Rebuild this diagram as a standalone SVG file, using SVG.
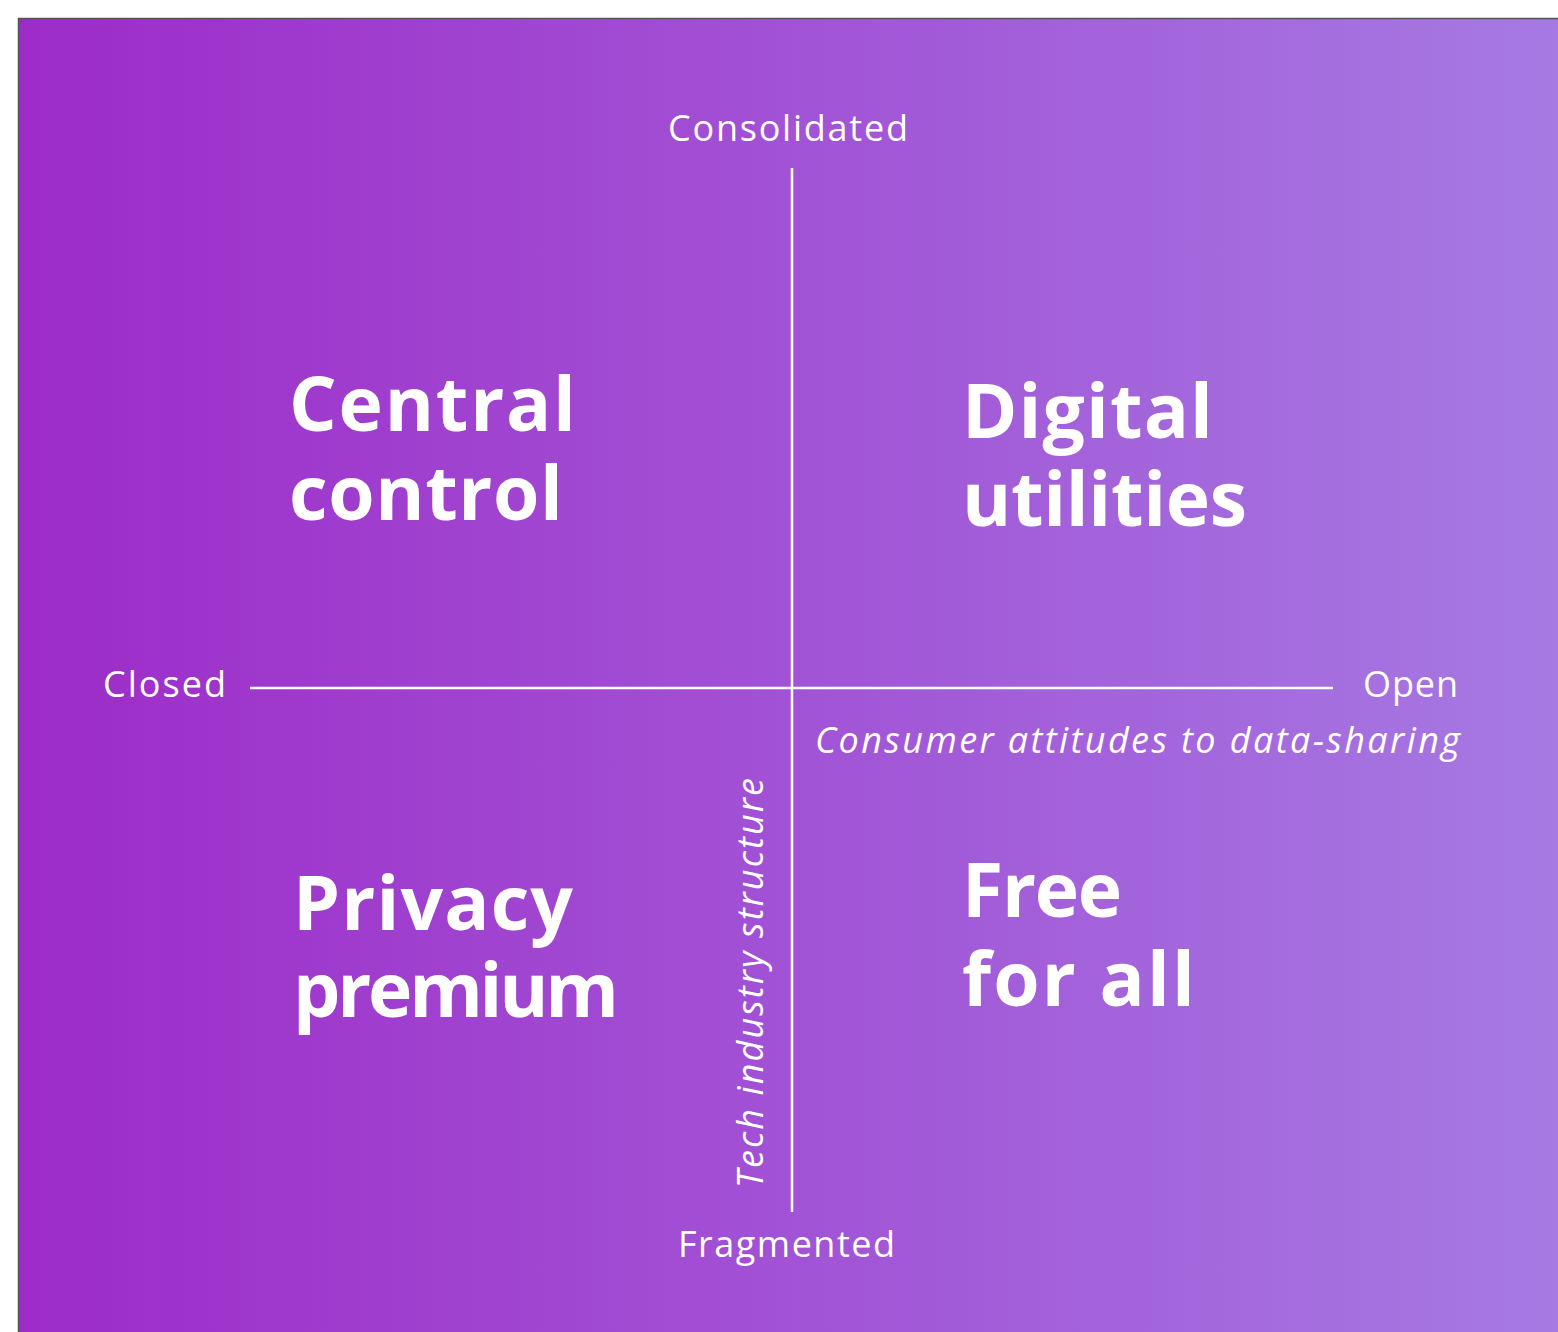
<svg xmlns="http://www.w3.org/2000/svg" width="1558" height="1332" viewBox="0 0 1558 1332">
<defs>
<linearGradient id="bg" x1="0" y1="0" x2="1" y2="0">
<stop offset="0" stop-color="#9D2BC8"/>
<stop offset="1" stop-color="#A67AE3"/>
</linearGradient>
<style>
.ax{fill:#fff;font-family:"Open Sans",Lato,sans-serif;font-size:36px}
.it{font-style:italic}
.big{fill:#fff;font-family:"Open Sans",Lato,sans-serif;font-weight:bold;font-size:75px}
.ln{stroke:#fff;stroke-width:2.5;fill:none}
</style>
</defs>
<rect x="0" y="0" width="1558" height="1332" fill="#fff"/>
<rect x="18.5" y="18.5" width="1545" height="1320" fill="url(#bg)" stroke="#555" stroke-width="1.5"/>
<g id="connectors">
<line class="ln" x1="792" y1="168" x2="792" y2="1212"/>
<line class="ln" x1="250" y1="688" x2="1333" y2="688"/>
</g>
<g id="axis-labels">
<text class="ax" x="668" y="141" textLength="240" lengthAdjust="spacing">Consolidated</text>
<text class="ax" x="678" y="1257" textLength="217" lengthAdjust="spacing">Fragmented</text>
<text class="ax" x="103" y="697" textLength="123" lengthAdjust="spacing">Closed</text>
<text class="ax" x="1363" y="697" textLength="95" lengthAdjust="spacing">Open</text>
<text class="ax it" x="815" y="753" textLength="645" lengthAdjust="spacing">Consumer attitudes to data-sharing</text>
<text class="ax it" transform="translate(763 1188) rotate(-90)" textLength="410" lengthAdjust="spacing">Tech industry structure</text>
</g>
<g id="central-control">
<text class="big" x="289" y="431" textLength="287" lengthAdjust="spacing">Central</text>
<text class="big" x="289" y="520" textLength="274" lengthAdjust="spacing">control</text>
</g>
<g id="digital-utilities">
<text class="big" x="962" y="438" textLength="251" lengthAdjust="spacing">Digital</text>
<text class="big" x="962" y="526" textLength="285" lengthAdjust="spacing">utilities</text>
</g>
<g id="privacy-premium">
<text class="big" x="293" y="930" textLength="280" lengthAdjust="spacing">Privacy</text>
<text class="big" x="293" y="1017" textLength="326" lengthAdjust="spacing">premium</text>
</g>
<g id="free-for-all">
<text class="big" x="962" y="917" textLength="160" lengthAdjust="spacing">Free</text>
<text class="big" x="962" y="1006" textLength="233" lengthAdjust="spacing">for all</text>
</g>
</svg>
